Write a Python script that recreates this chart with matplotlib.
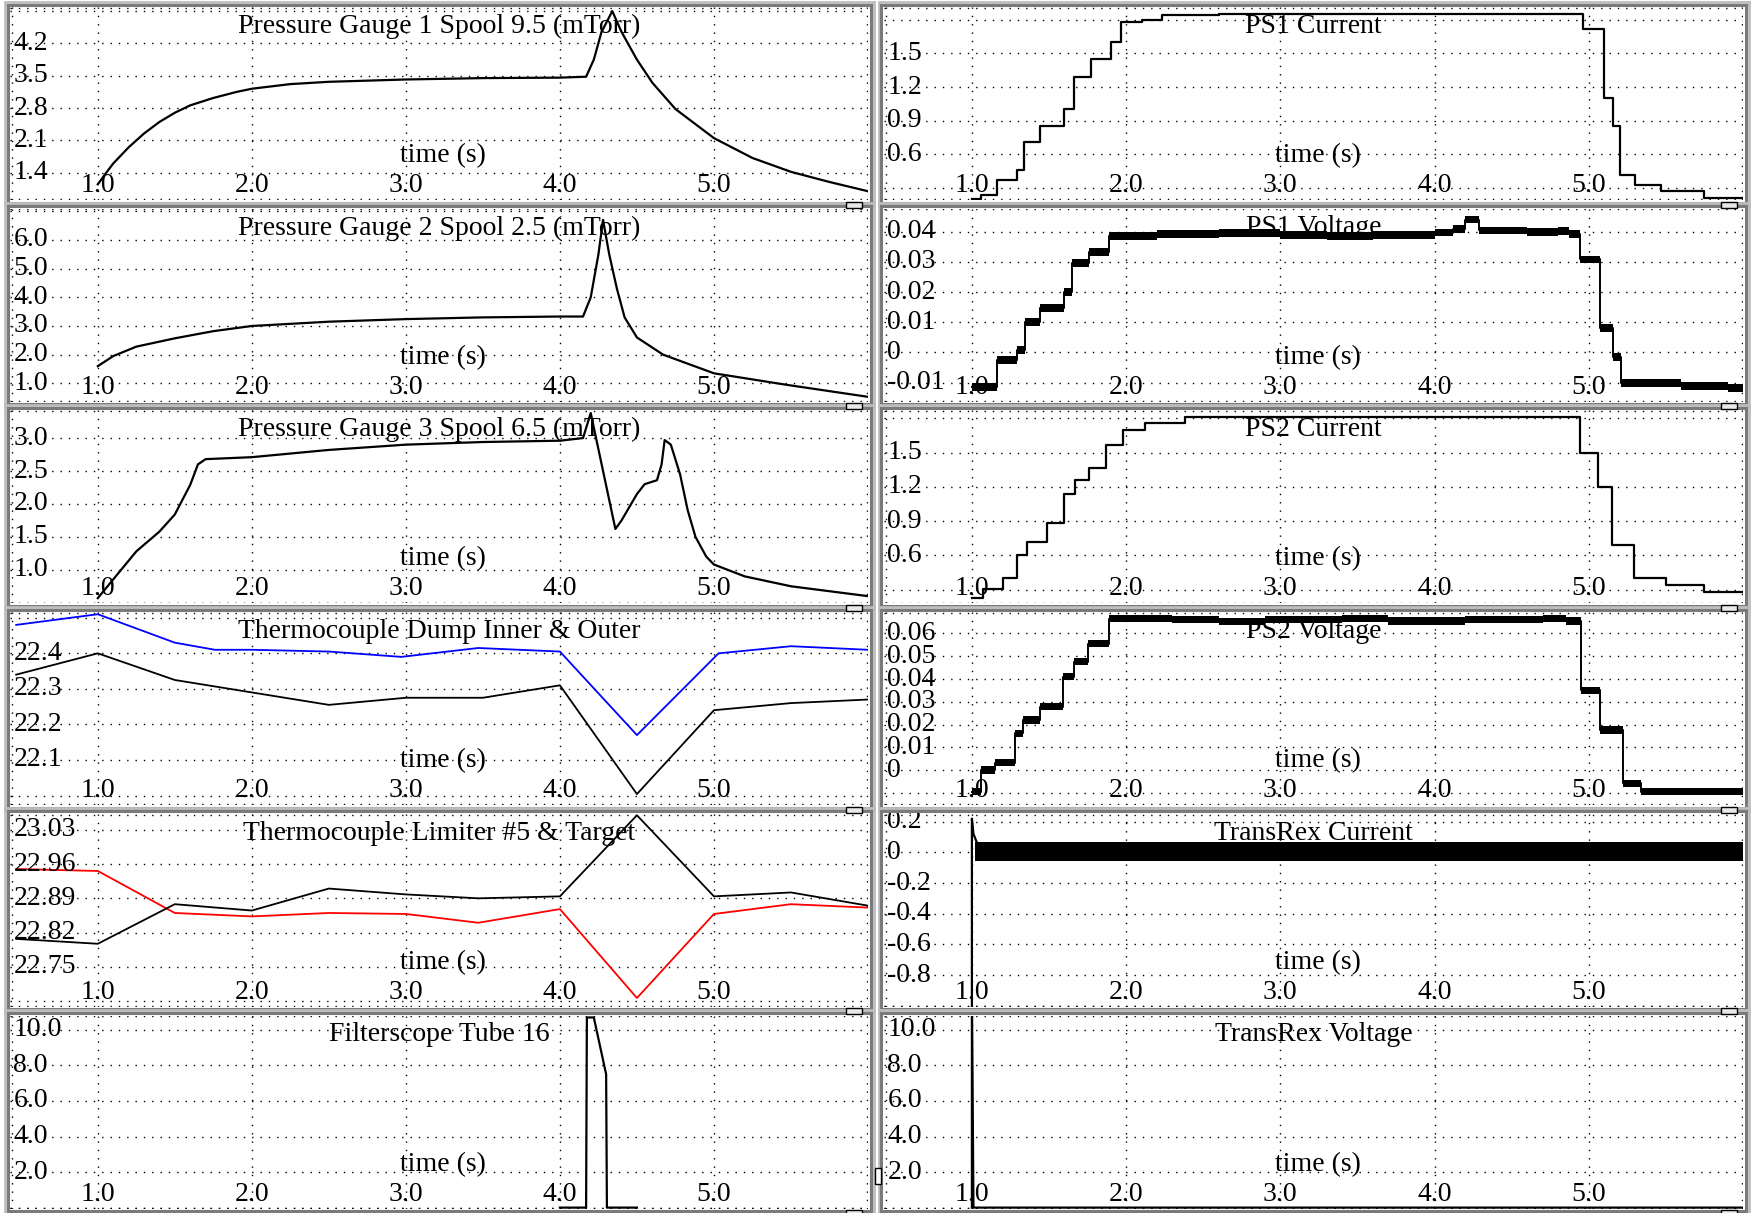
import numpy as np
import matplotlib
matplotlib.use("Agg")
import matplotlib.pyplot as plt
from matplotlib.patches import Rectangle

plt.rcParams['font.family'] = ['Liberation Serif', 'DejaVu Serif']

#%% data (time in s)

# Pressure Gauge 1 Spool 9.5 (mTorr)
pg1_t = [1.0, 1.05, 1.1, 1.2, 1.3, 1.4, 1.5, 1.6, 1.75, 1.9, 2.0, 2.25, 2.5, 3.0, 3.5, 4.0, 4.17,
         4.22, 4.27, 4.34, 4.4, 4.5, 4.6, 4.75, 5.0, 5.25, 5.5, 5.75, 6.0]
pg1_v = [1.15, 1.38, 1.6, 1.95, 2.25, 2.5, 2.7, 2.86, 3.02, 3.15, 3.22, 3.32, 3.37, 3.42, 3.45, 3.46, 3.48,
         3.85, 4.45, 4.9, 4.45, 3.85, 3.35, 2.78, 2.15, 1.72, 1.42, 1.2, 1.0]

# Pressure Gauge 2 Spool 2.5 (mTorr)
pg2_t = [1.0, 1.1, 1.25, 1.5, 1.75, 2.0, 2.5, 3.0, 3.5, 4.0, 4.15, 4.2, 4.25, 4.28,
         4.32, 4.37, 4.42, 4.5, 4.67, 5.0, 5.47, 6.0]
pg2_v = [1.6, 1.95, 2.28, 2.57, 2.82, 3.0, 3.15, 3.24, 3.3, 3.33, 3.33, 4.0, 5.5, 6.7,
         5.5, 4.3, 3.3, 2.6, 2.0, 1.35, 0.95, 0.53]

# Pressure Gauge 3 Spool 6.5 (mTorr)
pg3_t = [1.0, 1.25, 1.4, 1.5, 1.6, 1.65, 1.7, 2.0, 2.5, 3.0, 3.5, 4.0, 4.15, 4.2,
         4.36, 4.4, 4.45, 4.5, 4.55, 4.63, 4.66, 4.68, 4.72, 4.78, 4.83, 4.88, 4.95,
         5.0, 5.2, 5.5, 6.0]
pg3_v = [0.57, 1.28, 1.58, 1.84, 2.29, 2.6, 2.68, 2.71, 2.82, 2.9, 2.94, 2.96, 3.0, 3.38,
         1.62, 1.75, 1.95, 2.15, 2.3, 2.36, 2.6, 2.97, 2.9, 2.45, 1.9, 1.5, 1.2,
         1.08, 0.9, 0.75, 0.6]

# Thermocouple Dump Inner (blue) & Outer (black)
tcd_t = [0.47, 1.0, 1.5, 1.76, 2.0, 2.5, 2.97, 3.47, 4.0, 4.5, 5.03, 5.5, 6.0]
tcd_inner = [22.48, 22.51, 22.43, 22.41, 22.41, 22.405, 22.39, 22.415, 22.405, 22.17, 22.4, 22.42, 22.41]
tcd_outer_t = [0.47, 1.0, 1.5, 2.0, 2.5, 3.0, 3.5, 4.0, 4.5, 5.0, 5.5, 6.0]
tcd_outer = [22.34, 22.40, 22.325, 22.29, 22.255, 22.275, 22.275, 22.31, 22.004, 22.24, 22.26, 22.27]

# Thermocouple Limiter #5 (black) & Target (red)
tcl_t = [0.47, 1.0, 1.5, 2.0, 2.5, 3.0, 3.47, 4.0, 4.5, 5.0, 5.5, 6.0]
tcl_target = [22.95, 22.946, 22.86, 22.853, 22.86, 22.858, 22.84, 22.868, 22.686, 22.858, 22.878, 22.871]
tcl_limiter = [22.807, 22.797, 22.878, 22.865, 22.91, 22.898, 22.89, 22.894, 23.06, 22.894, 22.902, 22.875]

# Filterscope Tube 16
fs_t = [4.0, 4.17, 4.175, 4.22, 4.30, 4.305, 4.5]
fs_v = [0.0, 0.0, 10.7, 10.7, 7.5, 0.0, 0.0]

# PS1 Current (step knots)
ps1i_t = [1.0, 1.06, 1.16, 1.29, 1.34, 1.44, 1.60, 1.66, 1.77, 1.90, 1.97, 2.10, 2.23, 2.6,
          4.96, 5.10, 5.16, 5.20, 5.30, 5.47, 5.75, 6.0]
ps1i_v = [0.20, 0.237, 0.37, 0.46, 0.71, 0.85, 1.00, 1.29, 1.45, 1.60, 1.78, 1.80, 1.84, 1.855,
          1.72, 1.10, 0.85, 0.42, 0.33, 0.27, 0.21, 0.21]

# PS1 Voltage (step knots)
ps1v_t = [1.0, 1.16, 1.29, 1.345, 1.44, 1.60, 1.65, 1.76, 1.89, 2.2, 2.6, 3.0, 3.3, 3.6,
          4.0, 4.12, 4.20, 4.29, 4.6, 4.80, 4.87, 4.94, 5.07, 5.16, 5.21, 5.6, 5.9, 6.0]
ps1v_v = [-0.0113, -0.0025, 0.0008, 0.0102, 0.0146, 0.0200, 0.0295, 0.0334, 0.0386, 0.0392,
          0.0395, 0.0388, 0.0385, 0.0390, 0.0397, 0.0410, 0.0440, 0.0404, 0.0400, 0.0403,
          0.0392, 0.0308, 0.0080, -0.0014, -0.0100, -0.0110, -0.0118, -0.0118]

# PS2 Current (step knots)
ps2i_t = [1.0, 1.07, 1.2, 1.29, 1.36, 1.49, 1.60, 1.67, 1.76, 1.87, 1.98, 2.12, 2.38,
          4.94, 5.06, 5.15, 5.29, 5.50, 5.75, 6.0]
ps2i_v = [0.23, 0.31, 0.40, 0.60, 0.72, 0.88, 1.14, 1.26, 1.37, 1.57, 1.70, 1.76, 1.81,
          1.50, 1.20, 0.69, 0.40, 0.34, 0.28, 0.28]

# PS2 Voltage (step knots)
ps2v_t = [1.0, 1.06, 1.15, 1.28, 1.33, 1.44, 1.59, 1.66, 1.75, 1.89, 2.3, 2.6, 2.9, 3.4,
          3.7, 4.2, 4.7, 4.85, 4.95, 5.07, 5.22, 5.34, 6.0]
ps2v_v = [-0.0095, 0.0, 0.0032, 0.0161, 0.0220, 0.0278, 0.041, 0.0476, 0.0556, 0.0665,
          0.0660, 0.0652, 0.0662, 0.0665, 0.0655, 0.0660, 0.0665, 0.0655, 0.0351, 0.0176,
          -0.0058, -0.0095, -0.0095]

# TransRex Current: start-up spike, then a dense ripple band
trc_t = [1.0, 1.0, 1.01, 1.03]
trc_v = [-1.1, 0.22, 0.12, 0.07]
trc_band_t = [1.02, 6.0]
trc_band_lo = [-0.054, -0.054]
trc_band_hi = [0.07, 0.07]

# TransRex Voltage
trv_t = [1.0, 1.0, 1.01, 6.0]
trv_v = [0.0, 12.0, 0.0, 0.0]

#%% layout (pixels)

W, H, DPI = 1752, 1213, 100
COLS = [(10, 868), (884, 1743)]
ROW0, ROW_PITCH, AX_H = 7, 201.7, 193
XLIM = (0.43, 6.0)
FS = 20

GRID = dict(color='black', lw=1.0, linestyle=(0, (1, 5)), zorder=1)

fig = plt.figure(figsize=(W / DPI, H / DPI), dpi=DPI, facecolor='white')


def px_rect(x, y, w, h, **kw):
    # rectangle given in image pixels (y down)
    r = Rectangle((x / W, 1 - (y + h) / H), w / W, h / H, transform=fig.transFigure, **kw)
    fig.add_artist(r)
    return r


def grid_levels(lo, hi, step):
    k0 = int(np.ceil(lo / step - 1e-6))
    k1 = int(np.floor(hi / step + 1e-6))
    return [k * step for k in range(k0, k1 + 1)]


def make_panel(col, row, title, ylim, step, yticks, ylabels):
    x0, x1 = COLS[col]
    top = ROW0 + ROW_PITCH * row
    bot = top + AX_H

    # sunken window frame
    px_rect(x0 - 5.5, top - 5.5, x1 - x0 + 11, AX_H + 11, fill=False, ec='#bdbdbd', lw=2.0)
    px_rect(x0 - 2.5, top - 2.5, x1 - x0 + 5, AX_H + 5, fill=False, ec='#7a7a7a', lw=2.2)

    ax = fig.add_axes([x0 / W, 1 - bot / H, (x1 - x0) / W, AX_H / H])
    ax.set_xlim(XLIM)
    ax.set_ylim(ylim)
    ax.set_xticks([])
    ax.set_yticks([])
    for s in ax.spines.values():
        s.set_visible(False)

    for x in [1, 2, 3, 4, 5]:
        ax.axvline(x, **GRID)
    ax.axvline(XLIM[0] + 0.01, **GRID)
    ax.axvline(XLIM[1] - 0.005, **GRID)
    levels = grid_levels(ylim[0], ylim[1], step)
    span = ylim[1] - ylim[0]
    for y in levels + [ylim[0] + span * 0.004, ylim[1] - span * 0.004]:
        ax.axhline(y, **GRID)

    for y, lab in zip(yticks, ylabels):
        ax.text(0.004, y, lab, transform=ax.get_yaxis_transform(), ha='left', va='center',
                fontsize=FS, zorder=5)
    for x in [1, 2, 3, 4, 5]:
        ax.text(x, 0.075, f"{x:.1f}", transform=ax.get_xaxis_transform(), ha='center',
                va='center', fontsize=FS, zorder=5)
    ax.text(0.5, 0.9, title, transform=ax.transAxes, ha='center', va='center', fontsize=FS, zorder=5)
    ax.text(0.505, 0.23, "time (s)", transform=ax.transAxes, ha='center', va='center', fontsize=FS, zorder=5)

    # little window handle on the lower frame edge
    px_rect(x1 - 22, bot + 1.5, 16, 6, fc='#e8e8e8', ec='black', lw=1.0, zorder=10)
    return ax


#%% left column

ax = make_panel(0, 0, "Pressure Gauge 1 Spool 9.5 (mTorr)", (0.81, 4.99), 0.7,
                [1.4, 2.1, 2.8, 3.5, 4.2], ["1.4", "2.1", "2.8", "3.5", "4.2"])
ax.plot(pg1_t, pg1_v, color='black', lw=1.6, zorder=3)

ax = make_panel(0, 1, "Pressure Gauge 2 Spool 2.5 (mTorr)", (0.36, 7.09), 1.0,
                [1, 2, 3, 4, 5, 6], ["1.0", "2.0", "3.0", "4.0", "5.0", "6.0"])
ax.plot(pg2_t, pg2_v, color='black', lw=1.6, zorder=3)

ax = make_panel(0, 2, "Pressure Gauge 3 Spool 6.5 (mTorr)", (0.49, 3.42), 0.5,
                [1.0, 1.5, 2.0, 2.5, 3.0], ["1.0", "1.5", "2.0", "2.5", "3.0"])
ax.plot(pg3_t, pg3_v, color='black', lw=1.6, zorder=3)

ax = make_panel(0, 3, "Thermocouple Dump Inner & Outer", (21.973, 22.516), 0.1,
                [22.1, 22.2, 22.3, 22.4], ["22.1", "22.2", "22.3", "22.4"])
ax.plot(tcd_t, tcd_inner, color='#0000ff', lw=1.3, zorder=3)
ax.plot(tcd_outer_t, tcd_outer, color='black', lw=1.3, zorder=3)

ax = make_panel(0, 4, "Thermocouple Limiter #5 & Target", (22.668, 23.063), 0.07,
                [22.75, 22.82, 22.89, 22.96, 23.03], ["22.75", "22.82", "22.89", "22.96", "23.03"])
ax.plot(tcl_t, tcl_target, color='#ff0000', lw=1.3, zorder=3)
ax.plot(tcl_t, tcl_limiter, color='black', lw=1.3, zorder=3)

ax = make_panel(0, 5, "Filterscope Tube 16", (-0.05, 10.81), 2.0,
                [2, 4, 6, 8, 10], ["2.0", "4.0", "6.0", "8.0", "10.0"])
ax.plot(fs_t, fs_v, color='black', lw=1.6, zorder=3)

#%% right column

ax = make_panel(1, 0, "PS1 Current", (0.193, 1.913), 0.3,
                [0.6, 0.9, 1.2, 1.5], ["0.6", "0.9", "1.2", "1.5"])
ax.step(ps1i_t, ps1i_v, where='post', color='black', lw=1.6, zorder=3)

ax = make_panel(1, 1, "PS1 Voltage", (-0.0163, 0.0476), 0.01,
                [-0.01, 0, 0.01, 0.02, 0.03, 0.04], ["-0.01", "0", "0.01", "0.02", "0.03", "0.04"])
v = np.array(ps1v_v)
ax.fill_between(ps1v_t, v - 0.0013, v + 0.0013, step='post', color='black', lw=0, zorder=3)
ax.step(ps1v_t, ps1v_v, where='post', color='black', lw=1.4, zorder=3)

ax = make_panel(1, 2, "PS2 Current", (0.18, 1.87), 0.3,
                [0.6, 0.9, 1.2, 1.5], ["0.6", "0.9", "1.2", "1.5"])
ax.step(ps2i_t, ps2i_v, where='post', color='black', lw=1.6, zorder=3)

ax = make_panel(1, 3, "PS2 Voltage", (-0.0154, 0.0694), 0.01,
                [0, 0.01, 0.02, 0.03, 0.04, 0.05, 0.06],
                ["0", "0.01", "0.02", "0.03", "0.04", "0.05", "0.06"])
v = np.array(ps2v_v)
ax.fill_between(ps2v_t, v - 0.0016, v + 0.0016, step='post', color='black', lw=0, zorder=3)
ax.step(ps2v_t, ps2v_v, where='post', color='black', lw=1.4, zorder=3)

ax = make_panel(1, 4, "TransRex Current", (-1.007, 0.2515), 0.2,
                [-0.8, -0.6, -0.4, -0.2, 0, 0.2], ["-0.8", "-0.6", "-0.4", "-0.2", "0", "0.2"])
ax.fill_between(trc_band_t, trc_band_lo, trc_band_hi, color='black', lw=0, zorder=3)
ax.plot(trc_t, trc_v, color='black', lw=1.6, zorder=3)

ax = make_panel(1, 5, "TransRex Voltage", (-0.05, 10.81), 2.0,
                [2, 4, 6, 8, 10], ["2.0", "4.0", "6.0", "8.0", "10.0"])
ax.plot(trv_t, trv_v, color='black', lw=1.6, zorder=3)

# small marker on the right window's left edge
px_rect(875, 1168, 6, 16, fc='white', ec='black', lw=1.0, zorder=10)

fig.savefig("out.png", dpi=DPI, facecolor='white')
